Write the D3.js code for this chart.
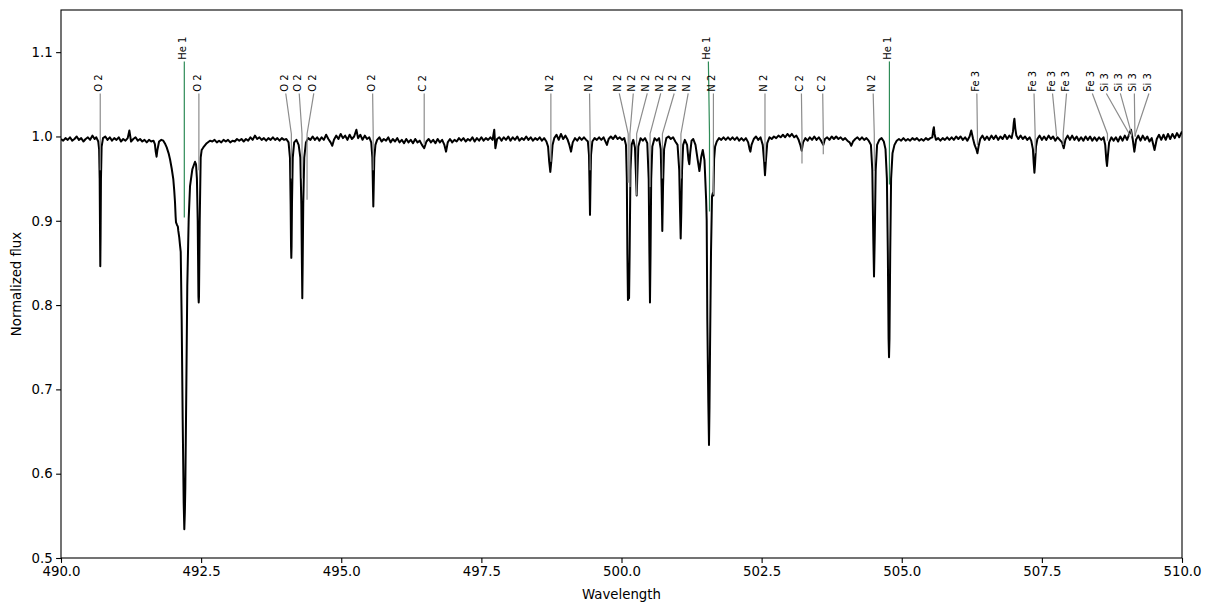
<!DOCTYPE html>
<html>
<head>
<meta charset="utf-8">
<script src="https://cdn.jsdelivr.net/npm/d3@7"></script>
<style>
  body { margin: 0; background: #fff; }
  svg { display: block; font-family: 'DejaVu Sans', sans-serif; }
</style>
</head>
<body>
<svg class="spectrum" width="1211" height="611"></svg>
<script>
// spectrum, [wavelength, normalized flux]
const spec490 = [
  [490.00, 0.997], [490.04, 0.995], [490.08, 0.998], [490.12, 0.996], [490.16, 0.999], [490.20, 0.995],
  [490.24, 0.997], [490.28, 1.000], [490.32, 0.996], [490.36, 0.998], [490.40, 0.994], [490.44, 0.997],
  [490.48, 0.999], [490.52, 0.996], [490.56, 1.001], [490.60, 0.997], [490.63, 0.999],
  [490.665, 0.994], [490.68, 0.985], [490.69, 0.95], [490.697, 0.88], [490.701, 0.846], [490.706, 0.88],
  [490.713, 0.95], [490.725, 0.988], [490.75, 0.998],
  [490.79, 1.000], [490.83, 0.996], [490.87, 0.999], [490.91, 0.995], [490.95, 0.998], [490.99, 0.996],
  [491.03, 0.999], [491.07, 0.994], [491.11, 0.997], [491.15, 0.995], [491.19, 0.998], [491.22, 1.007],
  [491.25, 0.994], [491.29, 0.997], [491.33, 0.999], [491.37, 0.995], [491.41, 0.997], [491.45, 0.994],
  [491.49, 0.996], [491.53, 0.993], [491.57, 0.996], [491.61, 0.994], [491.65, 0.995], [491.675, 0.991],
  [491.69, 0.982], [491.705, 0.976], [491.72, 0.984], [491.75, 0.994], [491.79, 0.996],
  [491.825, 0.995], [491.86, 0.991], [491.886, 0.987], [491.92, 0.980], [491.945, 0.973], [491.975, 0.962],
  [492.004, 0.949], [492.02, 0.936], [492.034, 0.922], [492.045, 0.905], [492.052, 0.898], [492.07, 0.895],
  [492.085, 0.893], [492.093, 0.888], [492.11, 0.880], [492.125, 0.870], [492.136, 0.863], [492.153, 0.783],
  [492.171, 0.664], [492.189, 0.565], [492.200, 0.534], [492.210, 0.555], [492.218, 0.584], [492.236, 0.703],
  [492.253, 0.822], [492.278, 0.902], [492.302, 0.941], [492.343, 0.961], [492.391, 0.970], [492.409, 0.967],
  [492.425, 0.95], [492.439, 0.90], [492.452, 0.81], [492.457, 0.803], [492.462, 0.81], [492.475, 0.90],
  [492.492, 0.975], [492.51, 0.984], [492.539, 0.987], [492.60, 0.992], [492.658, 0.995]
]

const spec493 = [
  [492.70, 0.994], [492.74, 0.996], [492.78, 0.993], [492.82, 0.995], [492.86, 0.993], [492.90, 0.996],
  [492.94, 0.994], [492.98, 0.996], [493.02, 0.993], [493.06, 0.995], [493.10, 0.994], [493.14, 0.997],
  [493.18, 0.995], [493.22, 0.997], [493.26, 0.994], [493.30, 0.997], [493.34, 0.995], [493.38, 0.999],
  [493.42, 0.996], [493.46, 1.001], [493.50, 0.997], [493.54, 0.999], [493.58, 0.996], [493.62, 0.998],
  [493.66, 0.995], [493.70, 0.998], [493.74, 0.996], [493.78, 0.999], [493.82, 0.996], [493.86, 0.998],
  [493.90, 0.995], [493.94, 0.998], [493.98, 0.996], [494.02, 0.997], [494.06, 0.993],
  [494.085, 0.975], [494.097, 0.92], [494.104, 0.87], [494.109, 0.856], [494.114, 0.87], [494.121, 0.92],
  [494.135, 0.975], [494.16, 0.993], [494.20, 0.996], [494.24, 0.99], [494.27, 0.975], [494.288, 0.92],
  [494.298, 0.85], [494.305, 0.808], [494.312, 0.85], [494.322, 0.92], [494.34, 0.975], [494.37, 0.993],
  [494.41, 0.998], [494.45, 0.996], [494.49, 1.000], [494.53, 0.996], [494.57, 0.999], [494.61, 0.995],
  [494.65, 0.999], [494.69, 0.996], [494.73, 1.002], [494.77, 0.997], [494.81, 0.993], [494.84, 0.989],
  [494.87, 0.996], [494.91, 1.001], [494.95, 0.997], [494.99, 1.003], [495.03, 0.998], [495.07, 1.001],
  [495.11, 0.996], [495.15, 1.002], [495.19, 0.997], [495.23, 1.000], [495.27, 1.008], [495.30, 0.998],
  [495.34, 1.002], [495.38, 0.996], [495.42, 1.001], [495.46, 0.997], [495.50, 0.999],
  [495.535, 0.993], [495.555, 0.975], [495.565, 0.94], [495.572, 0.917], [495.579, 0.94], [495.59, 0.975],
  [495.61, 0.99], [495.64, 0.996], [495.68, 0.999], [495.72, 0.994], [495.76, 0.997]
]

const spec496 = [
  [495.80, 0.995], [495.84, 0.999], [495.88, 0.993], [495.92, 0.997], [495.96, 0.994], [496.00, 0.998],
  [496.04, 0.993], [496.08, 0.996], [496.12, 0.992], [496.16, 0.997], [496.20, 0.993], [496.24, 0.996],
  [496.28, 0.992], [496.32, 0.997], [496.36, 0.993], [496.40, 0.995], [496.44, 0.99], [496.48, 0.986],
  [496.52, 0.994], [496.56, 0.997], [496.60, 0.993], [496.64, 0.996], [496.68, 0.992], [496.72, 0.997],
  [496.76, 0.993], [496.80, 0.996], [496.84, 0.99], [496.87, 0.982], [496.90, 0.993], [496.94, 0.997],
  [496.98, 0.993], [497.02, 0.996], [497.06, 0.994], [497.10, 0.998], [497.14, 0.995], [497.18, 0.998],
  [497.22, 0.994], [497.26, 0.997], [497.30, 0.995], [497.34, 0.999], [497.38, 0.994], [497.42, 0.998],
  [497.46, 0.995], [497.50, 0.999], [497.54, 0.995], [497.58, 0.998], [497.62, 0.996], [497.66, 0.999],
  [497.70, 0.996], [497.73, 1.008], [497.75, 0.986], [497.78, 0.997], [497.82, 0.999], [497.86, 0.995],
  [497.90, 0.999], [497.94, 0.996], [497.98, 1.000], [498.02, 0.995], [498.06, 0.999], [498.10, 0.996],
  [498.14, 1.000], [498.18, 0.995], [498.22, 0.998], [498.26, 0.996], [498.30, 1.000], [498.34, 0.996],
  [498.38, 0.999], [498.42, 0.995], [498.46, 0.998], [498.50, 0.996], [498.54, 0.999], [498.58, 0.995],
  [498.62, 0.998], [498.66, 0.994], [498.69, 0.988], [498.71, 0.97], [498.73, 0.958], [498.75, 0.972],
  [498.77, 0.99], [498.80, 0.998], [498.84, 1.002], [498.88, 0.996], [498.92, 1.003], [498.96, 0.997],
  [499.00, 1.001], [499.04, 0.996], [499.07, 0.99], [499.10, 0.982], [499.13, 0.993], [499.17, 0.998],
  [499.21, 0.995], [499.25, 0.999], [499.29, 0.996], [499.33, 0.999], [499.37, 0.996], [499.40, 0.994],
  [499.42, 0.978], [499.43, 0.94], [499.438, 0.907], [499.446, 0.94], [499.456, 0.978], [499.48, 0.994],
  [499.52, 0.998], [499.56, 0.996]
]

const spec500 = [
  [499.60, 0.999], [499.64, 0.996], [499.68, 0.999], [499.72, 0.993], [499.74, 0.990], [499.77, 0.997],
  [499.81, 1.000], [499.85, 0.997], [499.89, 1.001], [499.93, 0.997], [499.97, 0.999], [500.01, 0.996],
  [500.05, 0.998], [500.08, 0.99], [500.095, 0.95], [500.105, 0.86], [500.115, 0.806], [500.125, 0.82],
  [500.135, 0.808], [500.145, 0.86], [500.16, 0.96], [500.18, 0.99], [500.21, 0.996], [500.24, 0.987],
  [500.258, 0.955], [500.271, 0.93], [500.283, 0.955], [500.30, 0.988], [500.34, 0.998], [500.38, 0.995],
  [500.42, 0.998], [500.46, 0.992], [500.485, 0.95], [500.498, 0.86], [500.508, 0.803], [500.518, 0.86],
  [500.53, 0.95], [500.55, 0.988], [500.59, 0.998], [500.63, 0.995], [500.67, 0.998], [500.70, 0.985],
  [500.715, 0.94], [500.728, 0.888], [500.741, 0.94], [500.76, 0.985], [500.80, 0.998], [500.84, 1.000],
  [500.88, 0.997], [500.92, 0.999], [500.96, 0.994], [501.00, 0.99], [501.03, 0.96], [501.045, 0.91],
  [501.056, 0.879], [501.067, 0.91], [501.08, 0.96], [501.10, 0.99], [501.13, 0.996], [501.17, 0.99],
  [501.195, 0.972], [501.21, 0.967], [501.225, 0.98], [501.25, 0.995], [501.28, 0.997], [501.32, 0.99],
  [501.36, 0.972], [501.39, 0.959], [501.42, 0.975], [501.45, 0.984], [501.48, 0.972], [501.49, 0.957],
  [501.51, 0.925], [501.52, 0.90], [501.531, 0.783], [501.549, 0.684], [501.561, 0.634], [501.57, 0.68],
  [501.579, 0.744], [501.597, 0.863], [501.615, 0.929], [501.63, 0.933], [501.64, 0.93], [501.652, 0.973],
  [501.67, 0.988], [501.70, 0.994], [501.74, 0.998], [501.78, 0.996], [501.82, 0.999], [501.86, 0.996],
  [501.90, 0.999], [501.94, 0.996], [501.98, 0.999]
]

const spec502 = [
  [502.02, 0.996], [502.06, 0.999], [502.10, 0.995], [502.14, 0.998], [502.18, 0.995], [502.22, 0.998],
  [502.26, 0.993], [502.285, 0.985], [502.30, 0.982], [502.32, 0.99], [502.36, 0.997], [502.40, 1.000],
  [502.44, 0.996], [502.48, 0.999], [502.52, 0.99], [502.545, 0.97], [502.56, 0.954], [502.575, 0.97],
  [502.60, 0.992], [502.64, 0.999], [502.68, 0.997], [502.72, 1.000], [502.76, 0.998], [502.80, 1.001],
  [502.84, 0.999], [502.88, 1.002], [502.92, 0.999], [502.96, 1.003], [503.00, 1.000], [503.04, 1.003],
  [503.08, 0.999], [503.12, 1.001], [503.16, 0.996], [503.19, 0.99], [503.215, 0.983], [503.24, 0.993],
  [503.28, 0.998], [503.32, 0.995], [503.36, 0.999], [503.40, 0.996], [503.44, 1.000], [503.48, 0.996],
  [503.52, 0.999], [503.56, 0.995], [503.60, 0.99], [503.63, 0.997], [503.67, 0.999], [503.71, 0.996],
  [503.75, 1.000], [503.79, 0.997], [503.83, 1.000], [503.87, 0.997], [503.91, 0.999], [503.95, 0.996],
  [503.99, 0.998], [504.03, 0.995], [504.07, 0.993], [504.10, 0.989], [504.13, 0.994], [504.17, 0.997],
  [504.21, 0.999], [504.25, 0.996], [504.29, 0.999], [504.33, 0.996], [504.37, 0.998], [504.41, 0.995],
  [504.45, 0.99], [504.475, 0.96], [504.492, 0.88], [504.505, 0.834], [504.518, 0.88], [504.535, 0.96],
  [504.56, 0.99], [504.60, 0.996], [504.64, 0.998], [504.68, 0.994], [504.71, 0.985], [504.735, 0.95],
  [504.752, 0.86], [504.765, 0.76], [504.773, 0.738], [504.781, 0.76], [504.794, 0.86], [504.81, 0.95],
  [504.835, 0.98], [504.87, 0.99], [504.91, 0.995], [504.95, 0.997], [504.99, 0.995], [505.03, 0.998],
  [505.07, 0.995], [505.11, 0.997], [505.15, 0.995], [505.19, 0.998]
]

const spec505 = [
  [505.23, 0.996], [505.27, 0.998], [505.31, 0.995], [505.35, 0.997], [505.39, 0.995], [505.43, 0.998],
  [505.47, 0.996], [505.51, 0.998], [505.545, 0.999], [505.56, 1.007], [505.573, 1.011], [505.585, 1.003],
  [505.61, 0.996], [505.65, 0.998], [505.69, 0.995], [505.73, 0.998], [505.77, 0.996], [505.81, 0.999],
  [505.85, 0.996], [505.89, 0.999], [505.93, 0.996], [505.97, 1.000], [506.01, 0.997], [506.05, 1.000],
  [506.09, 0.996], [506.13, 0.999], [506.17, 0.995], [506.21, 1.000], [506.24, 1.007], [506.27, 0.998],
  [506.30, 0.99], [506.33, 0.985], [506.35, 0.980], [506.37, 0.988], [506.40, 0.997], [506.44, 1.001],
  [506.48, 0.996], [506.52, 1.000], [506.56, 0.996], [506.60, 1.001], [506.64, 0.997], [506.68, 1.001],
  [506.72, 0.996], [506.76, 1.000], [506.80, 0.997], [506.84, 1.002], [506.88, 0.997], [506.92, 1.001],
  [506.96, 0.998], [506.985, 1.006], [507.00, 1.017], [507.01, 1.021], [507.025, 1.01], [507.045, 1.001],
  [507.08, 0.997], [507.12, 1.001], [507.16, 0.997], [507.20, 1.000], [507.24, 0.996], [507.28, 0.999],
  [507.31, 0.995], [507.34, 0.985], [507.355, 0.968], [507.367, 0.957], [507.378, 0.967], [507.395, 0.988],
  [507.42, 0.997], [507.46, 1.001], [507.50, 0.996], [507.54, 1.000], [507.58, 0.996], [507.62, 1.001],
  [507.66, 0.997], [507.70, 1.000], [507.74, 0.995], [507.78, 0.999], [507.82, 0.996], [507.86, 0.993],
  [507.89, 0.986], [507.92, 0.996], [507.96, 1.001], [508.00, 0.996], [508.04, 1.001], [508.08, 0.996],
  [508.12, 1.000], [508.16, 0.995], [508.20, 0.999], [508.24, 0.995], [508.28, 1.000], [508.32, 0.996],
  [508.36, 1.000], [508.40, 0.995], [508.44, 0.999], [508.48, 0.995], [508.52, 0.999], [508.56, 0.996],
  [508.60, 0.999], [508.63, 0.99], [508.65, 0.972], [508.662, 0.965], [508.675, 0.975], [508.70, 0.993],
  [508.74, 0.999], [508.78, 0.995], [508.82, 0.999], [508.86, 0.994], [508.90, 1.000], [508.94, 0.995],
  [508.98, 1.001], [509.02, 0.996], [509.06, 1.003], [509.09, 1.008], [509.12, 0.997], [509.15, 0.982],
  [509.18, 0.996], [509.22, 1.001], [509.26, 0.995], [509.30, 1.001], [509.34, 0.996], [509.38, 1.000],
  [509.42, 0.994], [509.46, 0.998], [509.51, 0.984], [509.55, 0.997], [509.59, 1.002], [509.63, 0.996],
  [509.67, 1.002], [509.71, 0.996], [509.75, 1.003], [509.79, 0.997], [509.83, 1.003], [509.87, 0.998],
  [509.91, 1.004], [509.95, 0.999], [510.00, 1.006]
]

// line identifications
const lineNames = ['O 2', 'He 1', 'O 2', 'O 2', 'O 2', 'O 2', 'O 2', 'C 2', 'N 2', 'N 2',
  'N 2', 'N 2', 'N 2', 'N 2', 'N 2', 'N 2', 'He 1', 'N 2', 'N 2', 'C 2', 'C 2', 'N 2', 'He 1',
  'Fe 3', 'Fe 3', 'Fe 3', 'Fe 3', 'Fe 3', 'Si 3', 'Si 3', 'Si 3', 'Si 3']
const lineWaves = [490.70, 492.20, 492.46, 494.11, 494.30, 494.39, 495.57, 496.48, 498.74, 499.44,
  500.12, 500.15, 500.27, 500.51, 500.73, 501.06, 501.57, 501.64, 502.56, 503.22, 503.60, 504.51, 504.78,
  506.35, 507.38, 507.76, 507.88, 508.67, 509.06, 509.10, 509.16, 509.17]
const labelWaves = [490.70, 492.20, 492.46, 494.01, 494.25, 494.51, 495.56, 496.48, 498.74, 499.43,
  499.96, 500.21, 500.46, 500.70, 500.94, 501.19, 501.55, 501.64, 502.56, 503.21, 503.59, 504.49, 504.78,
  506.34, 507.36, 507.69, 507.94, 508.40, 508.65, 508.90, 509.15, 509.41]
const tipFlux = [0.96, 0.904, 0.96, 0.95, 0.95, 0.925, 0.96, 0.99, 0.97, 0.96,
  0.945, 0.94, 0.93, 0.94, 0.95, 0.95, 0.911, 0.931, 0.97, 0.968, 0.979, 0.959, 0.943,
  0.99, 0.98, 1.0, 0.99, 0.995, 1.0, 1.0, 1.0, 1.0]

const xTicks = [490, 492.5, 495, 497.5, 500, 502.5, 505, 507.5, 510]
const yTicks = [0.5, 0.6, 0.7, 0.8, 0.9, 1.0, 1.1]

const drawSpectrum = () => {
  const spectrum = [...spec490, ...spec493, ...spec496, ...spec500, ...spec502, ...spec505]

  let svg = d3.select('.spectrum'),
    margin = { top: 10, right: 29, bottom: 53, left: 61 },
    width = +svg.attr('width') - margin.left - margin.right,
    height = +svg.attr('height') - margin.top - margin.bottom,
    g = svg.append('g').attr('transform', 'translate(' + margin.left + ',' + margin.top + ')')

  let x = d3.scaleLinear().domain([490, 510]).range([0, width])
  let y = d3.scaleLinear().domain([0.5, 1.15]).range([height, 0])

  svg.append('defs').append('clipPath').attr('id', 'plot-clip')
    .append('rect').attr('width', width).attr('height', height)

  let xAxis = g.append('g')
    .attr('transform', 'translate(0,' + height + ')')
    .call(d3.axisBottom(x).tickValues(xTicks).tickFormat(d3.format('.1f')).tickSizeOuter(0).tickSize(4.9).tickPadding(3.5))
  let yAxis = g.append('g')
    .call(d3.axisLeft(y).tickValues(yTicks).tickFormat(d3.format('.1f')).tickSizeOuter(0).tickSize(4.9).tickPadding(3.5))
  for (let a of [xAxis, yAxis]) {
    a.select('.domain').remove()
    a.selectAll('text').attr('font-size', '13.3px').attr('font-family', 'DejaVu Sans').attr('fill', '#000')
    a.selectAll('line').attr('stroke', '#000').attr('stroke-width', 1.1)
  }

  let line = d3.line()
    .x(d => x(d[0]))
    .y(d => y(d[1]))

  g.append('path')
    .datum(spectrum)
    .attr('clip-path', 'url(#plot-clip)')
    .attr('fill', 'none')
    .attr('stroke', '#000')
    .attr('stroke-width', 2)
    .attr('stroke-linejoin', 'round')
    .attr('d', line)

  // annotation leaders, drawn over the spectrum
  const ids = lineNames.map((n, i) => ({
    name: n,
    wave: lineWaves[i],
    label: labelWaves[i],
    tip: tipFlux[i],
    he: n.startsWith('He')
  }))

  let ann = g.append('g')
  ann.selectAll('path')
    .data(ids)
    .enter().append('path')
    .attr('fill', 'none')
    .attr('stroke', d => d.he ? '#2e8b57' : '#8c8c8c')
    .attr('stroke-width', 1.2)
    .attr('d', d => {
      const top = d.he ? 1.089 : 1.051
      const knee = Math.max(1.003, d.tip)
      return 'M' + x(d.label) + ',' + y(top) + 'L' + x(d.wave) + ',' + y(knee) + 'L' + x(d.wave) + ',' + y(d.tip)
    })

  ann.selectAll('text')
    .data(ids)
    .enter().append('text')
    .attr('transform', d => 'translate(' + x(d.label) + ',' + y(d.he ? 1.091 : 1.053) + ') rotate(-90)')
    .attr('dy', '0.2em')
    .attr('font-size', '10px')
    .attr('fill', '#000')
    .text(d => d.name)

  g.append('rect')
    .attr('width', width)
    .attr('height', height)
    .attr('fill', 'none')
    .attr('stroke', '#000')
    .attr('stroke-width', 1.1)

  g.append('text')
    .attr('x', width / 2)
    .attr('y', height + 41)
    .attr('text-anchor', 'middle')
    .attr('font-size', '13.3px')
    .text('Wavelength')

  g.append('text')
    .attr('transform', 'rotate(-90)')
    .attr('x', -height / 2)
    .attr('y', -45)
    .attr('dy', '0.35em')
    .attr('text-anchor', 'middle')
    .attr('font-size', '13.3px')
    .text('Normalized flux')
}

drawSpectrum()
</script>
</body>
</html>
